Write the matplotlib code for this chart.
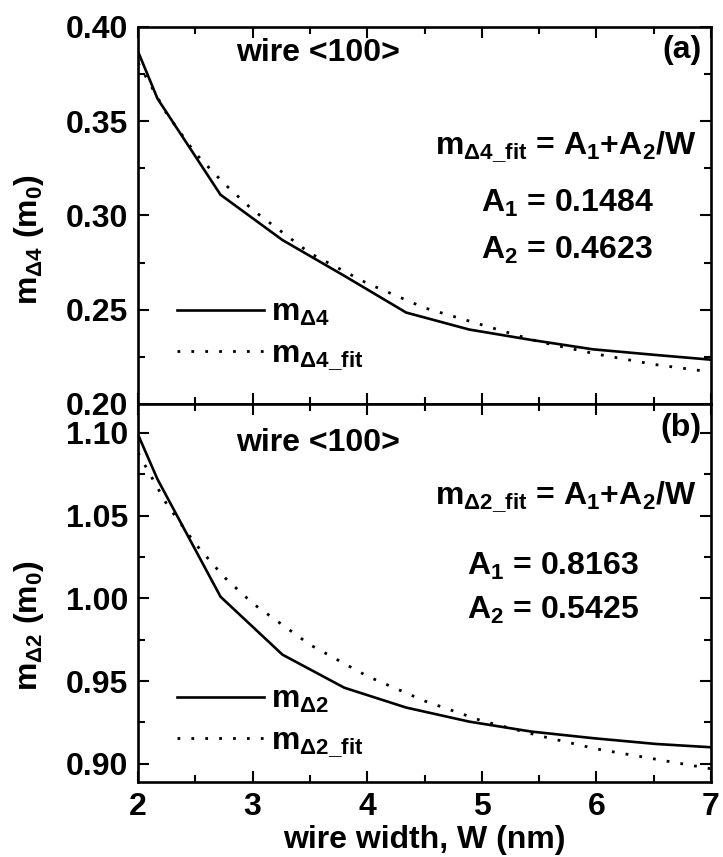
import matplotlib

matplotlib.use('Agg')
import matplotlib.pyplot as plt
from matplotlib.ticker import MultipleLocator

# wire widths (nm) of the computed points
width = [2.0, 2.17, 2.72, 3.26, 3.80, 4.34, 4.89, 5.43, 5.97, 6.52, 7.0]
m_d4 = [0.387, 0.362, 0.311, 0.287, 0.268, 0.2485, 0.2395, 0.234, 0.229, 0.226, 0.2235]
m_d2 = [1.099, 1.072, 1.001, 0.966, 0.946, 0.934, 0.9255, 0.9195, 0.9155, 0.912, 0.910]

# fitted curves
width_fit = [2.0, 2.25, 2.5, 2.75, 3.0, 3.5, 4.0, 4.5, 5.0, 5.5, 6.0, 6.5, 7.0]
m_d4_fit = [0.381, 0.354, 0.333, 0.317, 0.303, 0.280, 0.264, 0.251, 0.242, 0.233, 0.2265, 0.221, 0.217]
m_d2_fit = [1.088, 1.057, 1.033, 1.013, 0.997, 0.972, 0.953, 0.938, 0.926, 0.917, 0.909, 0.903, 0.897]

fit_a = ['0.1484', '0.4623']
fit_b = ['0.8163', '0.5425']

plt.rcParams['font.family'] = ['Liberation Sans', 'DejaVu Sans']
plt.rcParams['font.weight'] = 'bold'
plt.rcParams['axes.labelweight'] = 'bold'
plt.rcParams['mathtext.fontset'] = 'custom'
plt.rcParams['mathtext.rm'] = 'Liberation Sans:bold'
plt.rcParams['mathtext.it'] = 'Liberation Sans:bold'
plt.rcParams['mathtext.bf'] = 'Liberation Sans:bold'
plt.rcParams['mathtext.sf'] = 'Liberation Sans:bold'

FS = 23
fig = plt.figure(figsize=(7.23, 8.57), dpi=100)
ax1 = fig.add_axes([0.1909, 0.5286, 0.7925, 0.4399])
ax2 = fig.add_axes([0.1909, 0.0875, 0.7925, 0.4411])

dots = (0, (1, 4))
ax1.plot(width, m_d4, color='black', lw=1.9, label=r'$\mathrm{m_{Δ4}}$')
ax1.plot(width_fit, m_d4_fit, color='black', lw=2.0, linestyle=dots, label=r'$\mathrm{m_{Δ4\_fit}}$')
ax2.plot(width, m_d2, color='black', lw=1.9, label=r'$\mathrm{m_{Δ2}}$')
ax2.plot(width_fit, m_d2_fit, color='black', lw=2.0, linestyle=dots, label=r'$\mathrm{m_{Δ2\_fit}}$')

ax1.set_ylim(0.20, 0.40)
ax2.set_ylim(0.889, 1.1175)
for ax in (ax1, ax2):
    ax.set_xlim(2, 7)
    ax.xaxis.set_major_locator(MultipleLocator(1))
    ax.xaxis.set_minor_locator(MultipleLocator(0.5))
    ax.yaxis.set_major_locator(MultipleLocator(0.05))
    ax.yaxis.set_minor_locator(MultipleLocator(0.025))
    ax.tick_params(which='both', direction='in', top=True, right=True, width=1.5, labelsize=FS, pad=7)
    ax.tick_params(which='major', length=8)
    ax.tick_params(which='minor', length=5)
    for s in ax.spines.values():
        s.set_linewidth(1.9)
    ax.yaxis.set_major_formatter(plt.FuncFormatter(lambda v, _: f'{v:.2f}'))
    ax.text(3.57, 0.931 if ax is ax1 else 0.897, 'wire <100>', fontsize=FS, ha='center', va='center',
            transform=ax.get_xaxis_transform())
    ax.legend(loc='upper left', frameon=False, fontsize=FS, handlelength=2.75, handletextpad=0.2,
              labelspacing=0.35, borderaxespad=0.0,
              bbox_to_anchor=(0.045, 0.315 if ax is ax1 else 0.29))

ax1.tick_params(labelbottom=False)
ax2.set_xlabel('wire width, W (nm)', fontsize=FS, fontweight='bold', labelpad=2)

ax1.set_ylabel(r'$\mathrm{m_{Δ4}}$ (m$_\mathrm{0}$)', fontsize=FS, fontweight='bold')
ax2.set_ylabel(r'$\mathrm{m_{Δ2}}$ (m$_\mathrm{0}$)', fontsize=FS, fontweight='bold')
ax1.yaxis.set_label_coords(-0.16, 0.435)
ax2.yaxis.set_label_coords(-0.16, 0.415)

ax1.text(0.984, 0.939, '(a)', transform=ax1.transAxes, fontsize=FS, ha='right', va='center')
ax2.text(0.984, 0.937, '(b)', transform=ax2.transAxes, fontsize=FS, ha='right', va='center')

ax1.text(0.747, 0.682, r'$\mathrm{m_{Δ4\_fit}}$ = A$_\mathrm{1}$+A$_\mathrm{2}$/W',
         transform=ax1.transAxes, fontsize=FS, ha='center', va='center')
ax1.text(0.749, 0.533, f'A$_\\mathrm{{1}}$ = {fit_a[0]}', transform=ax1.transAxes, fontsize=FS,
         ha='center', va='center')
ax1.text(0.749, 0.408, f'A$_\\mathrm{{2}}$ = {fit_a[1]}', transform=ax1.transAxes, fontsize=FS,
         ha='center', va='center')

ax2.text(0.747, 0.754, r'$\mathrm{m_{Δ2\_fit}}$ = A$_\mathrm{1}$+A$_\mathrm{2}$/W',
         transform=ax2.transAxes, fontsize=FS, ha='center', va='center')
ax2.text(0.725, 0.569, f'A$_\\mathrm{{1}}$ = {fit_b[0]}', transform=ax2.transAxes, fontsize=FS,
         ha='center', va='center')
ax2.text(0.725, 0.455, f'A$_\\mathrm{{2}}$ = {fit_b[1]}', transform=ax2.transAxes, fontsize=FS,
         ha='center', va='center')

fig.savefig('out.png', dpi=100)
plt.close(fig)
